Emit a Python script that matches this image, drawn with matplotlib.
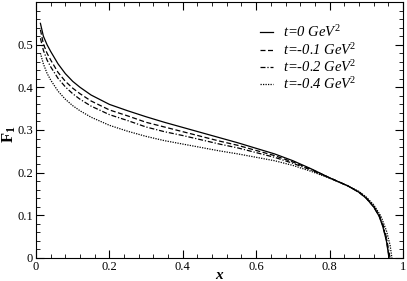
import matplotlib
matplotlib.use("Agg")
import matplotlib.pyplot as plt
from matplotlib.ticker import MultipleLocator

plt.rcParams['font.family'] = ['Liberation Serif', 'DejaVu Serif']
plt.rcParams['mathtext.fontset'] = 'custom'
plt.rcParams['mathtext.rm'] = 'Liberation Serif'
plt.rcParams['mathtext.it'] = 'Liberation Serif:italic'
plt.rcParams['mathtext.bf'] = 'Liberation Serif:bold'

labels = ["t=0 GeV$^2$", "t=-0.1 GeV$^2$", "t=-0.2 GeV$^2$", "t=-0.4 GeV$^2$"]

x_t0 = [0.012, 0.02, 0.03, 0.04, 0.06, 0.08, 0.10, 0.12, 0.15, 0.20, 0.25, 0.30, 0.35, 0.40, 0.45,
        0.50, 0.55, 0.60, 0.65, 0.70, 0.75, 0.80, 0.85, 0.88, 0.90, 0.92, 0.935, 0.945, 0.955, 0.962]
y_t0 = [0.550, 0.520, 0.500, 0.484, 0.455, 0.432, 0.414, 0.400, 0.382, 0.360, 0.345, 0.331, 0.318, 0.306, 0.294,
        0.282, 0.270, 0.257, 0.244, 0.228, 0.209, 0.188, 0.169, 0.154, 0.140, 0.120, 0.098, 0.074, 0.040, 0.0]

x_t1 = [0.012, 0.02, 0.03, 0.04, 0.06, 0.08, 0.10, 0.12, 0.15, 0.20, 0.25, 0.30, 0.35, 0.40, 0.45,
        0.50, 0.55, 0.60, 0.65, 0.70, 0.75, 0.80, 0.85, 0.88, 0.90, 0.92, 0.935, 0.945, 0.955, 0.963]
y_t1 = [0.535, 0.502, 0.480, 0.464, 0.435, 0.414, 0.398, 0.385, 0.368, 0.347, 0.333, 0.318, 0.307, 0.296, 0.285,
        0.274, 0.264, 0.252, 0.240, 0.225, 0.208, 0.188, 0.169, 0.154, 0.140, 0.120, 0.099, 0.076, 0.042, 0.0]

x_t2 = [0.012, 0.02, 0.03, 0.04, 0.06, 0.08, 0.10, 0.12, 0.15, 0.20, 0.25, 0.30, 0.35, 0.40, 0.45,
        0.50, 0.55, 0.60, 0.65, 0.70, 0.75, 0.80, 0.85, 0.88, 0.90, 0.92, 0.935, 0.945, 0.955, 0.965]
y_t2 = [0.515, 0.487, 0.464, 0.448, 0.421, 0.401, 0.385, 0.372, 0.356, 0.336, 0.322, 0.307, 0.296, 0.287, 0.277,
        0.267, 0.258, 0.247, 0.236, 0.222, 0.206, 0.188, 0.169, 0.155, 0.141, 0.122, 0.102, 0.080, 0.048, 0.0]

x_t4 = [0.012, 0.02, 0.03, 0.04, 0.06, 0.08, 0.10, 0.12, 0.15, 0.20, 0.25, 0.30, 0.35, 0.40, 0.45,
        0.50, 0.55, 0.60, 0.65, 0.70, 0.75, 0.80, 0.85, 0.88, 0.90, 0.92, 0.94, 0.955, 0.965, 0.970]
y_t4 = [0.480, 0.455, 0.433, 0.417, 0.391, 0.372, 0.357, 0.345, 0.330, 0.311, 0.297, 0.285, 0.275, 0.267, 0.259,
        0.251, 0.244, 0.236, 0.228, 0.217, 0.203, 0.187, 0.169, 0.156, 0.143, 0.125, 0.098, 0.064, 0.030, 0.0]

fig = plt.figure(figsize=(4.07, 2.81), dpi=100)
ax = fig.add_axes([0.0885, 0.0819, 0.9015, 0.911])

ax.plot(x_t0, y_t0, color='black', lw=0.9, ls='-', label=labels[0])
ax.plot(x_t1, y_t1, color='black', lw=0.9, ls=(0, (4, 2)), label=labels[1])
ax.plot(x_t2, y_t2, color='black', lw=0.9, ls=(0, (4, 1.5, 1, 1.5)), label=labels[2])
ax.plot(x_t4, y_t4, color='black', lw=0.9, ls=(0, (1, 1)), label=labels[3])

ax.set_xlim(0, 1)
ax.set_ylim(0, 0.6)
ax.xaxis.set_minor_locator(MultipleLocator(0.04))
ax.yaxis.set_minor_locator(MultipleLocator(0.02))
ax.set_xticks([0, 0.2, 0.4, 0.6, 0.8, 1.0])
ax.set_xticklabels(['0', '0.2', '0.4', '0.6', '0.8', '1'])
ax.set_yticks([0, 0.1, 0.2, 0.3, 0.4, 0.5])
ax.set_yticklabels(['0', '0.1', '0.2', '0.3', '0.4', '0.5'])
ax.tick_params(which='both', direction='in', top=True, right=True, labelsize=9, pad=2)
ax.tick_params(which='major', length=6, width=0.8)
ax.tick_params(which='minor', length=3, width=0.6)
for s in ax.spines.values():
    s.set_linewidth(0.8)

ax.set_xlabel('x', fontsize=11, fontweight='bold', style='italic')
ax.xaxis.set_label_coords(0.5, -0.043)
ax.set_ylabel('F$_\\mathbf{1}$', fontsize=12, fontweight='bold')
ax.yaxis.set_label_coords(-0.05, 0.484)

leg = ax.legend(loc='upper left', bbox_to_anchor=(0.595, 0.935), frameon=False,
                prop={'style': 'italic', 'size': 10.5}, handlelength=0.85, handletextpad=0.75,
                labelspacing=0.1, borderaxespad=0)

fig.savefig('out.png', dpi=100)
